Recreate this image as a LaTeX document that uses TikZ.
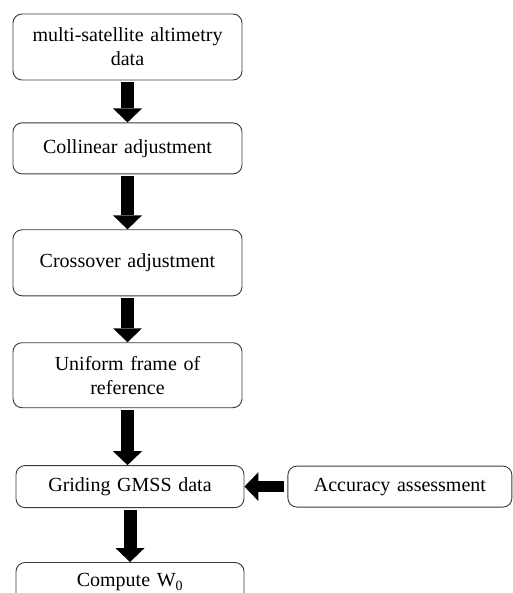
\documentclass[tikz,border=0pt]{standalone}
\usepackage{fontspec}
\setmainfont{Liberation Serif}
\usetikzlibrary{arrows.meta,positioning}
\definecolor{Frame}{HTML}{3A3A3A}
\tikzset{
  stepbox/.style={draw=Frame,fill=white,rounded corners=9pt,line width=0.9pt,minimum width=229pt,text width=210pt,align=center,font=\fontsize{20}{24}\selectfont,text=black,inner sep=0pt},
  blockarr/.style={-{Triangle[length=14pt,width=29pt,line width=0pt]},line width=13pt,draw=black,shorten <=2pt}
}

\begin{document}
\begin{tikzpicture}[x=1pt,y=1pt,node distance=42pt]
  \useasboundingbox (0,0) rectangle (512,-593);
  \node[stepbox,minimum height=66pt] (alti) at (127.5,-47) {multi-satellite altimetry\\data};
  \node[stepbox,minimum height=51pt,below=42pt of alti] (colin) {Collinear adjustment};
  \node[stepbox,minimum height=66pt,below=55pt of colin] (cross) {Crossover adjustment};
  \node[stepbox,minimum height=65pt,below=46pt of cross] (frame) {Uniform frame of\\reference};
  \node[stepbox,minimum height=42pt,minimum width=228pt,below=57pt of frame,xshift=2.5pt] (grid) {Griding GMSS data};
  \node[stepbox,minimum height=41pt,minimum width=224pt,right=43pt of grid] (acc) {Accuracy assessment};
  \node[stepbox,minimum height=40pt,minimum width=228pt,below=54pt of grid] (wzero) {Compute W\textsubscript{0}};
  \draw[blockarr] (alti) -- (colin);
  \draw[blockarr] (colin) -- (cross);
  \draw[blockarr] (cross) -- (frame);
  \draw[blockarr] (frame.south) -- (grid.north -| frame.south);
  \draw[blockarr,line width=11pt,shorten <=3pt] (acc) -- (grid);
  \draw[blockarr] (grid) -- (wzero);
\end{tikzpicture}
\end{document}
